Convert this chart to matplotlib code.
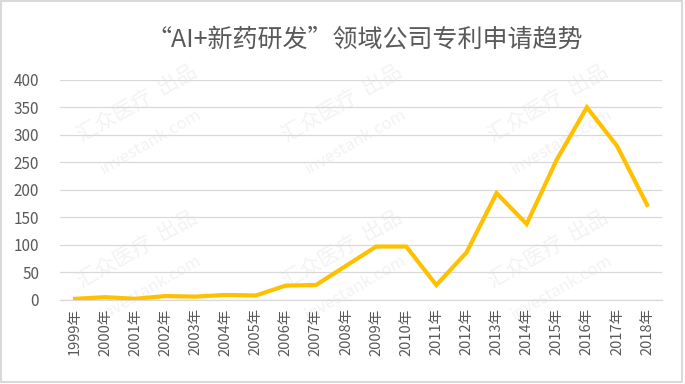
import matplotlib
matplotlib.use('Agg')
import matplotlib.pyplot as plt
import numpy as np

plt.rcParams['font.family'] = ['Noto Sans CJK SC', 'DejaVu Sans']

years = [str(y) + '年' for y in range(1999, 2019)]
patents = [2, 5, 2, 7, 6, 9, 8, 26, 27, 62, 97, 97, 27, 86, 194, 138, 255, 350, 280, 173]
title = '“AI+新药研发”领域公司专利申请趋势'

fig = plt.figure(figsize=(6.85, 3.84), dpi=100)
fig.patch.set_facecolor('white')
fig.patches.append(plt.Rectangle((0.002, 0.004), 0.994, 0.993, transform=fig.transFigure,
                                 fill=False, edgecolor='#d9d9d9', linewidth=1.5))

# faint watermark, kept inside the frame
for gx in [0.2, 0.5, 0.8]:
    for gy in [0.3, 0.68]:
        fig.text(gx, gy + 0.05, '汇众医疗  出品', rotation=30, fontsize=15,
                 color='#f3f3f3', ha='center', va='center', zorder=-1)
        fig.text(gx + 0.02, gy - 0.05, 'investank.com', rotation=30, fontsize=12,
                 color='#f3f3f3', ha='center', va='center', zorder=-1)

ax = fig.add_axes([0.0876, 0.219, 0.879, 0.573])
ax.patch.set_alpha(0)
x = np.arange(len(years))
ax.plot(x, patents, color='#FFC000', linewidth=3, solid_joinstyle='miter', zorder=3)

ax.set_xlim(-0.5, len(years) - 0.5)
ax.set_ylim(0, 400)
ax.set_yticks(range(0, 401, 50))
ax.set_xticks(x)
ax.set_xticklabels(years, rotation=90, fontsize=10.5, color='#595959')
ax.tick_params(axis='y', labelsize=11, labelcolor='#595959', length=0, pad=15)
ax.tick_params(axis='x', length=0, pad=6)
ax.grid(axis='y', color='#d9d9d9', linewidth=0.9)
ax.set_axisbelow(True)
for s in ['top', 'right', 'left']:
    ax.spines[s].set_visible(False)
ax.spines['bottom'].set_color('#d9d9d9')
ax.spines['bottom'].set_linewidth(0.9)

fig.text(0.533, 0.897, title, fontsize=18, color='#595959', ha='center', va='center')

fig.savefig('out.png', dpi=100)
